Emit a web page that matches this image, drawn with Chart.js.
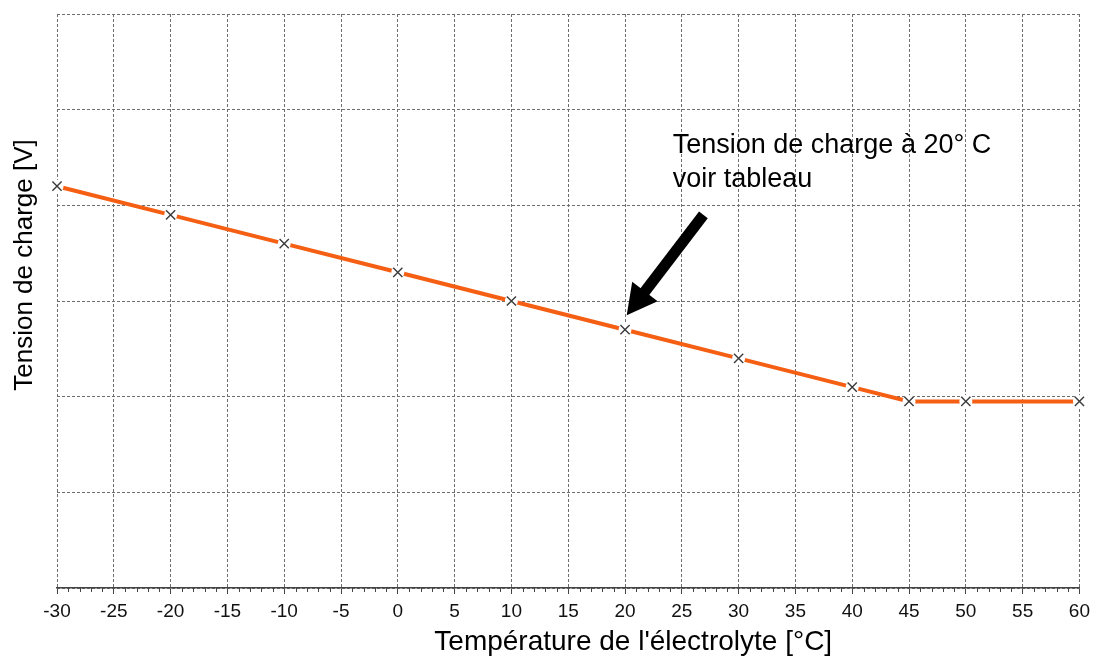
<!DOCTYPE html>
<html>
<head>
<meta charset="utf-8">
<script src="https://cdn.jsdelivr.net/npm/chart.js@4/dist/chart.umd.min.js"></script>
<style>
html,body{margin:0;padding:0;background:#fff;}
#wrap{width:1096px;height:659px;}
</style>
</head>
<body>
<div id="wrap"><canvas id="c" width="1096" height="659"></canvas></div>
<script>
// ---- data ----
const temperatures = [-30, -20, -10, 0, 10, 20, 30, 40, 45, 50, 60];
const chargeVoltage = [4.2, 3.9, 3.6, 3.3, 3.0, 2.7, 2.4, 2.1, 1.95, 1.95, 1.95];
const xTickValues = [-30,-25,-20,-15,-10,-5,0,5,10,15,20,25,30,35,40,45,50,55,60];
const xTitle = "Température de l'électrolyte [°C]";
const yTitle = "Tension de charge [V]";
const noteLines = ["Tension de charge à 20° C", "voir tableau"];
// annotation anchor points (data coords)
const noteAt = {x: 24.2, y: [4.55, 4.19]};
const arrowFrom = {x: 26.9, y: 3.9};
const arrowTo = {x: 20.15, y: 2.85};

const pts = temperatures.map((t, i) => ({x: t, y: chargeVoltage[i]}));
const FONT = '"Liberation Sans", Arial, sans-serif';

const extras = {
  id: 'extras',
  afterDatasetsDraw(chart) {
    const ctx = chart.ctx, xs = chart.scales.x, ys = chart.scales.y;
    const area = chart.chartArea;
    ctx.save();
    // minor ticks
    const yb = ys.getPixelForValue(0);
    ctx.strokeStyle = '#444'; ctx.lineWidth = 1;
    for (let v = xs.min; v <= xs.max; v++) {
      if (v % 5 === 0) continue;
      const px = Math.round(xs.getPixelForValue(v)) + 0.5;
      ctx.beginPath(); ctx.moveTo(px, yb); ctx.lineTo(px, yb + 4); ctx.stroke();
    }
    // axis titles
    ctx.fillStyle = '#000';
    ctx.textAlign = 'center';
    ctx.textBaseline = 'middle';
    ctx.font = '28px ' + FONT;
    ctx.fillText(xTitle, (area.left + area.right) / 2 + 65, chart.height - 17);
    ctx.save();
    ctx.translate(25, (area.top + area.bottom) / 2 - 36);
    ctx.rotate(-Math.PI / 2);
    ctx.font = '26px ' + FONT;
    ctx.fillText(yTitle, 0, 0);
    ctx.restore();
    // annotation text
    ctx.font = '27px ' + FONT;
    ctx.textBaseline = 'alphabetic';
    ctx.textAlign = 'left';
    noteLines.forEach((s, i) => {
      ctx.fillText(s, xs.getPixelForValue(noteAt.x), ys.getPixelForValue(noteAt.y[i]));
    });
    // arrow
    const x1 = xs.getPixelForValue(arrowFrom.x), y1 = ys.getPixelForValue(arrowFrom.y);
    const x2 = xs.getPixelForValue(arrowTo.x), y2 = ys.getPixelForValue(arrowTo.y);
    const dx = x2 - x1, dy = y2 - y1, L = Math.hypot(dx, dy);
    const ux = dx / L, uy = dy / L, nx = -uy, ny = ux;
    const headL = 30, headW = 16;
    const bx = x2 - ux * headL, by = y2 - uy * headL;
    ctx.strokeStyle = '#000'; ctx.lineWidth = 11; ctx.lineCap = 'butt';
    ctx.beginPath(); ctx.moveTo(x1, y1); ctx.lineTo(bx + ux * 2, by + uy * 2); ctx.stroke();
    ctx.beginPath();
    ctx.moveTo(x2, y2);
    ctx.lineTo(bx + nx * headW, by + ny * headW);
    ctx.lineTo(bx - nx * headW, by - ny * headW);
    ctx.closePath(); ctx.fill();
    ctx.restore();
  }
};

new Chart(document.getElementById('c'), {
  type: 'scatter',
  data: {
    datasets: [
      { data: pts, showLine: false, pointStyle: 'crossRot', pointRadius: 6.5,
        pointBorderColor: '#3a3a3a', pointBorderWidth: 1.4, pointHoverRadius: 6.5, clip: false },
      { data: pts, showLine: false, pointStyle: 'circle', pointRadius: 6.5,
        pointBackgroundColor: '#fff', pointBorderWidth: 0, pointBorderColor: '#fff', clip: false },
      { data: pts, showLine: true, pointRadius: 0, borderColor: '#F55F14',
        borderWidth: 4, tension: 0, clip: false }
    ]
  },
  plugins: [extras],
  options: {
    responsive: false,
    animation: false,
    events: [],
    layout: { padding: { top: 14, right: 16, left: 0, bottom: 0 } },
    plugins: { legend: { display: false }, tooltip: { enabled: false } },
    scales: {
      x: {
        type: 'linear', min: -30, max: 60,
        afterBuildTicks(s) { s.ticks = xTickValues.map(v => ({value: v})); },
        afterFit(s) { s.height = 71; },
        grid: { color: '#6e6e6e', lineWidth: 1, drawTicks: true,
                tickLength: 6, tickColor: '#444', tickBorderDash: [], tickWidth: 1 },
        border: { display: true, color: '#444', width: 1.5, dash: [3, 2] },
        ticks: { color: '#111', font: { family: FONT, size: 19 }, padding: 6, maxRotation: 0, autoSkip: false },
        title: { display: false }
      },
      y: {
        min: 0, max: 6,
        ticks: { display: false, stepSize: 1 },
        afterFit(s) { s.width = 57; },
        grid: { color: '#6e6e6e', lineWidth: 1, drawTicks: false },
        border: { display: false, dash: [3, 2] },
        title: { display: false }
      }
    }
  }
});
</script>
</body>
</html>
